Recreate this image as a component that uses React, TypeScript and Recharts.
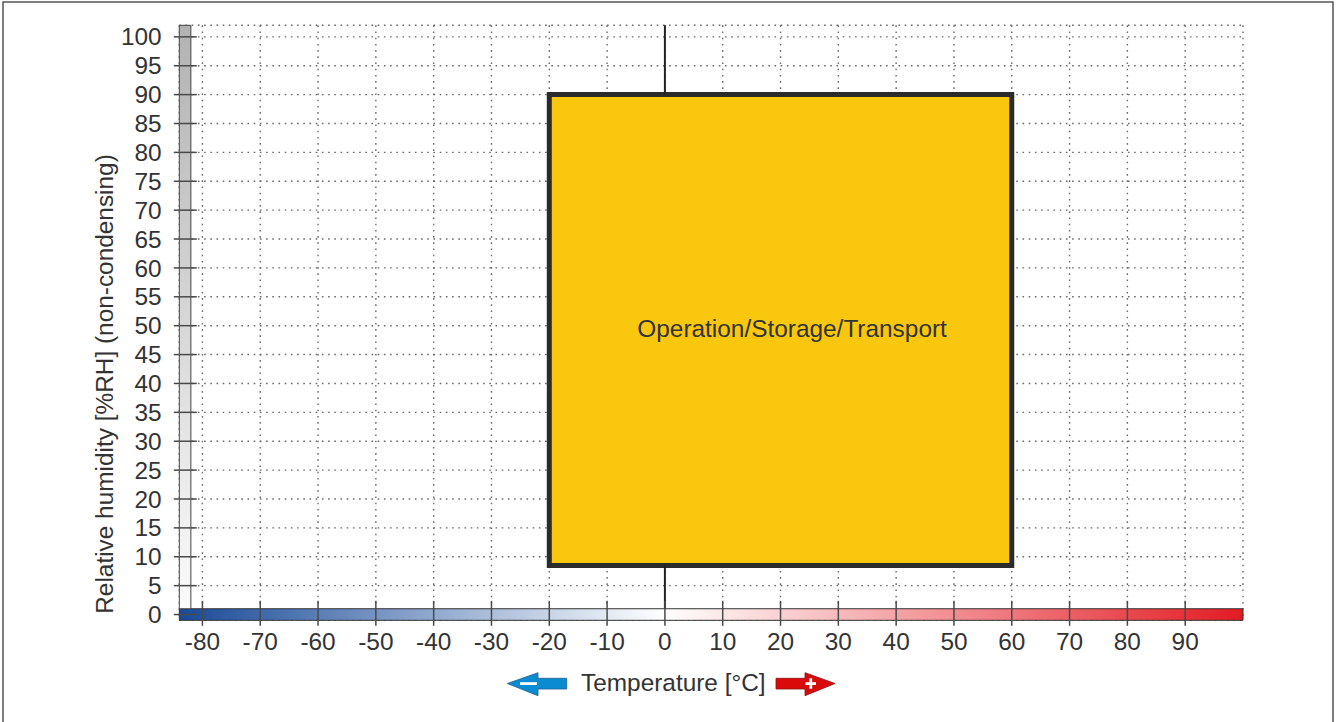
import React from 'react';
import {
  ComposedChart,
  XAxis,
  YAxis,
  CartesianGrid,
  ReferenceArea,
  ReferenceLine,
  ReferenceDot,
} from 'recharts';

// Axis ranges and ticks
const xDomain = [-84, 100];
const yDomain = [-1, 102];
const xTicks = [-80, -70, -60, -50, -40, -30, -20, -10, 0, 10, 20, 30, 40, 50, 60, 70, 80, 90];
const yTicks = [0, 5, 10, 15, 20, 25, 30, 35, 40, 45, 50, 55, 60, 65, 70, 75, 80, 85, 90, 95, 100];

// Operating region
const regionTemp = [-20, 60];
const regionHumidity = [8.5, 90];
const regionLabel = 'Operation/Storage/Transport';
const regionLabelPos = [22, 49.5];

// Scale bars (temperature band along x, humidity band along y)
const tempBand = [-84, 100];
const tempBandY = [-1, 1];
const humBandX = [-84, -82];
const humBandY = [1, 102];

const yTitle = 'Relative humidity [%RH] (non-condensing)';
const xTitle = 'Temperature [°C]';

const FONT = '"Liberation Sans", Arial, Helvetica, sans-serif';
const FS = 24.4;
const TEXT = '#333333';
const TICK = '#4a4a4a';

const XTick = (props: any) => {
  const { x, y, payload } = props;
  return (
    <g>
      <line x1={x} x2={x} y1={y - 19.5} y2={y + 5.5} stroke={TICK} strokeWidth={1.5} />
      <text x={x} y={y + 30} textAnchor="middle" fontSize={FS} fontFamily={FONT} fill={TEXT}>
        {payload.value}
      </text>
    </g>
  );
};

const YTick = (props: any) => {
  const { x, y, payload } = props;
  return (
    <g>
      <line x1={x - 5.5} x2={x + 17.5} y1={y} y2={y} stroke={TICK} strokeWidth={1.5} />
      <text x={x - 17.6} y={y + 8.6} textAnchor="end" fontSize={FS} fontFamily={FONT} fill={TEXT}>
        {payload.value}
      </text>
    </g>
  );
};

const YTitle = (props: any) => {
  const vb = props.viewBox || {};
  const cx = vb.x + 33.7;
  const cy = 384;
  return (
    <text
      x={cx}
      y={cy}
      transform={`rotate(-90, ${cx}, ${cy})`}
      textAnchor="middle"
      fontSize={FS}
      fontFamily={FONT}
      fill={TEXT}
    >
      {yTitle}
    </text>
  );
};

const RegionText = (props: any) => {
  const { cx, cy } = props;
  return (
    <text x={cx} y={cy + 8.7} textAnchor="middle" fontSize={FS} fontFamily={FONT} fill={TEXT}>
      {regionLabel}
    </text>
  );
};

export default function App() {
  return (
    <div
      style={{
        position: 'fixed',
        left: 0,
        top: 0,
        width: 1337,
        height: 722,
        overflow: 'hidden',
        background: '#ffffff',
      }}
    >
      <div style={{ position: 'absolute', left: 0, top: 0 }}>
        <ComposedChart
          width={1337}
          height={722}
          data={[]}
          margin={{ top: 25.3, right: 94, left: 79.3, bottom: 61.7 }}
        >
          <defs>
            <linearGradient id="tempGrad" x1="0" y1="0" x2="1" y2="0">
              <stop offset="0%" stopColor="#184a98" />
              <stop offset="45.65%" stopColor="#ffffff" />
              <stop offset="100%" stopColor="#e31b23" />
            </linearGradient>
            <linearGradient id="humGrad" x1="0" y1="0" x2="0" y2="1">
              <stop offset="0%" stopColor="#b2b2b2" />
              <stop offset="100%" stopColor="#fbfbfb" />
            </linearGradient>
          </defs>
          <CartesianGrid
            stroke="#6a6a6a"
            strokeWidth={1.4}
            strokeDasharray="1.6 4.6"
            vertical
            horizontal
          />
          <ReferenceLine
            segment={[{ x: 0, y: humBandY[0] }, { x: 0, y: regionHumidity[0] }]}
            stroke="#222222"
            strokeWidth={2}
            ifOverflow="visible"
          />
          <ReferenceLine
            segment={[{ x: 0, y: regionHumidity[1] }, { x: 0, y: humBandY[1] }]}
            stroke="#222222"
            strokeWidth={2}
            ifOverflow="visible"
          />
          <ReferenceArea
            x1={tempBand[0]}
            x2={tempBand[1]}
            y1={tempBandY[0]}
            y2={tempBandY[1]}
            fill="url(#tempGrad)"
            fillOpacity={1}
            stroke="#333333"
            strokeWidth={1}
            ifOverflow="visible"
          />
          <ReferenceArea
            x1={humBandX[0]}
            x2={humBandX[1]}
            y1={humBandY[0]}
            y2={humBandY[1]}
            fill="url(#humGrad)"
            fillOpacity={1}
            stroke="#444444"
            strokeWidth={1}
            ifOverflow="visible"
          />
          <ReferenceArea
            x1={regionTemp[0]}
            x2={regionTemp[1]}
            y1={regionHumidity[0]}
            y2={regionHumidity[1]}
            fill="#f9c80e"
            fillOpacity={1}
            stroke="#2b2b2b"
            strokeWidth={5}
            ifOverflow="visible"
          />
          <ReferenceDot
            x={regionLabelPos[0]}
            y={regionLabelPos[1]}
            r={0}
            shape={RegionText}
            ifOverflow="visible"
          />
          <XAxis
            type="number"
            dataKey="x"
            domain={xDomain}
            ticks={xTicks}
            allowDataOverflow
            axisLine={false}
            tickLine={false}
            tickSize={0}
            tickMargin={0}
            height={40}
            interval={0}
            tick={<XTick />}
          />
          <YAxis
            type="number"
            dataKey="y"
            domain={yDomain}
            ticks={yTicks}
            allowDataOverflow
            axisLine={false}
            tickLine={false}
            tickSize={0}
            tickMargin={0}
            width={100}
            interval={0}
            tick={<YTick />}
            label={<YTitle />}
          />
        </ComposedChart>
      </div>
      <svg
        width={1337}
        height={722}
        style={{ position: 'absolute', left: 0, top: 0, pointerEvents: 'none' }}
      >
        <rect x={3} y={2} width={1330} height={760} fill="none" stroke="#555555" strokeWidth={1.5} />
        <polygon
          points="507.3,683.5 538,672.7 538,678.3 566.7,678.3 566.7,689 538,689 538,695.7"
          fill="#0a8bd2"
          stroke="#1d5f8e"
          strokeWidth={0.8}
        />
        <rect x={520} y={682.2} width={17} height={2.8} fill="#ffffff" />
        <text x={673.3} y={691} textAnchor="middle" fontSize={FS} fontFamily={FONT} fill={TEXT}>
          {xTitle}
        </text>
        <polygon
          points="835,683.5 805,672.7 805,678.3 776,678.3 776,689 805,689 805,695.7"
          fill="#db0a0a"
          stroke="#8a1010"
          strokeWidth={0.8}
        />
        <rect x={805.5} y={682.2} width={10.5} height={2.8} fill="#ffffff" />
        <rect x={809.4} y={678.3} width={2.8} height={10.5} fill="#ffffff" />
      </svg>
    </div>
  );
}
